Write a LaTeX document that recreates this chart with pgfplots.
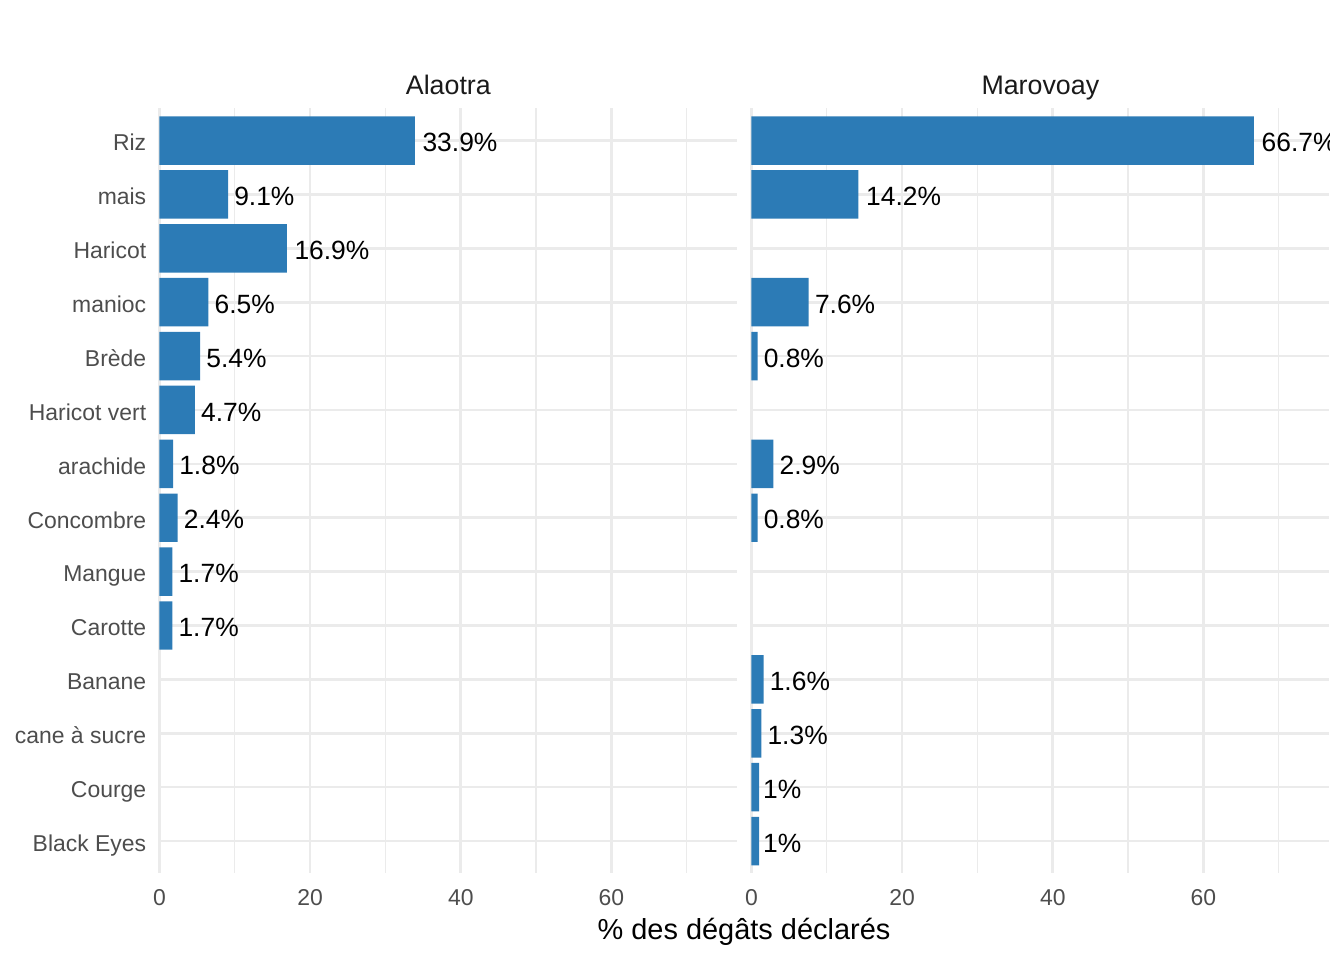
\documentclass[border=0pt]{standalone}
\usepackage{fontspec}
\setmainfont{Liberation Sans}
\usepackage{pgfplots}
\usepackage{pgfplotstable}
\pgfplotsset{compat=1.18}

\definecolor{barblue}{HTML}{2C7BB6}
\definecolor{gridgrey}{HTML}{EBEBEB}
\definecolor{ticklab}{HTML}{4D4D4D}
\definecolor{striptext}{HTML}{1A1A1A}

% hjust = -0.1 : push the label right by a tenth of its own width
\newcommand\hj[1]{\setbox0\hbox{#1}\kern0.1\wd0\box0}

% y = row (1 = Riz ... 14 = Black Eyes), x = share, lab = printed value
\pgfplotstableread{
y x lab
1 33.9 33.9
2 9.1 9.1
3 16.9 16.9
4 6.5 6.5
5 5.4 5.4
6 4.7 4.7
7 1.8 1.8
8 2.4 2.4
9 1.7 1.7
10 1.7 1.7
}\alaotra

\pgfplotstableread{
y x lab
1 66.7 66.7
2 14.2 14.2
4 7.6 7.6
5 0.8 0.8
7 2.9 2.9
8 0.8 0.8
11 1.6 1.6
12 1.3 1.3
13 1.0 1
14 1.0 1
}\marovoay

\pgfplotsset{facet/.style={
    scale only axis, width=433.3pt, height=573.8pt,
    xmin=0, xmax=76.7, ymin=0.4, ymax=14.6, y dir=reverse,
    axis line style={draw=none},
    major tick style={draw=none}, minor tick style={draw=none},
    xtick={0,20,40,60}, minor xtick={10,30,50,70}, ytick={1,...,14},
    xmajorgrids, xminorgrids, ymajorgrids,
    major grid style={gridgrey, line width=2pt},
    minor grid style={gridgrey, line width=1pt},
    tick label style={font=\fontsize{17.2}{20}\selectfont, text=ticklab},
    xticklabel style={anchor=north, inner sep=0pt, yshift=-11.7pt},
    yticklabel style={anchor=east, inner sep=0pt, text depth=0pt,
      xshift=-5.5pt, yshift=-1.5pt},
    /pgf/number format/assume math mode=true,
    title style={font=\fontsize{20.1}{24}\selectfont, text=striptext,
      at={(0.5,1)}, anchor=base, yshift=4pt, inner sep=0pt},
    xbar, bar width=0.9,
    point meta=explicit symbolic,
    nodes near coords={\hj{\pgfplotspointmeta\%}},
    every node near coord/.append style={font=\fontsize{19.8}{22}\selectfont,
      anchor=west, inner sep=0pt, text=black, yshift=-1.5pt},
  }}

\begin{document}
\begin{tikzpicture}
  \path[use as bounding box] (0,0) rectangle (1008pt,720pt);

  \begin{axis}[facet, at={(119.6pt,65pt)}, anchor=south west,
      title={Alaotra},
      yticklabels={Riz,mais,Haricot,manioc,Brède,Haricot vert,arachide,
        Concombre,Mangue,Carotte,Banane,cane à sucre,Courge,Black Eyes}]
    \addplot[fill=barblue, draw=none] table[x=x, y=y, meta=lab] {\alaotra};
  \end{axis}

  % labels are cut at the panel's right edge, as in the original
  \begin{scope}
    \clip (0,0) rectangle (996.9pt,720pt);
    \begin{axis}[facet, at={(563.6pt,65pt)}, anchor=south west,
        title={Marovoay}, yticklabels={}]
      \addplot[fill=barblue, draw=none] table[x=x, y=y, meta=lab] {\marovoay};
    \end{axis}
  \end{scope}

  \node[font=\fontsize{21.7}{26}\selectfont, anchor=base] at (558pt,15.5pt)
    {\% des dégâts déclarés};
\end{tikzpicture}
\end{document}
